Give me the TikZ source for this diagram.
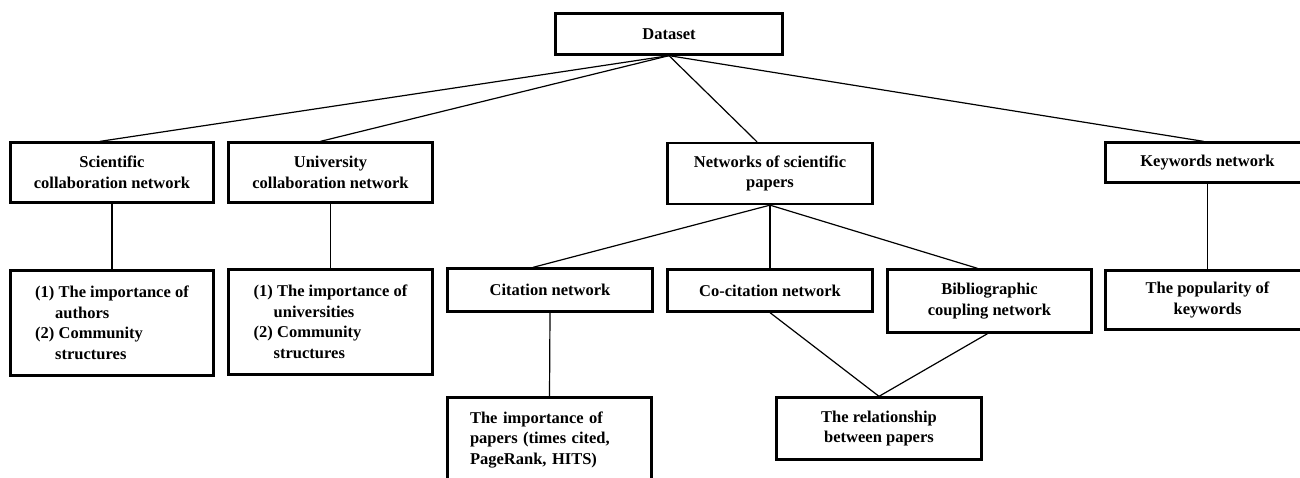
\documentclass[tikz,border=0pt]{standalone}
\usepackage{fontspec}
\setmainfont{Liberation Serif}
\begin{document}
\begin{tikzpicture}[x=1pt,y=-1pt,
  bx/.style={draw=black, line width=2.3pt, inner sep=0pt, align=center,
    font=\bfseries\fontsize{16.5}{20.5}\selectfont},
  ln/.style={draw=black, line width=1.2pt}]
\useasboundingbox (0,0) rectangle (1300,478);
\clip (0,0) rectangle (1300,478);
% level 0
\node[bx, minimum width=227pt, minimum height=41pt] (ds) at (669,34) {Dataset};
% level 1
\node[bx, minimum width=203pt, minimum height=60pt] (sci) at (112,172.5) {Scientific\\collaboration network};
\node[bx, minimum width=204pt, minimum height=60pt] (uni) at (330.5,172.5) {University\\collaboration network};
\node[bx, minimum width=205pt, minimum height=61pt] (net) at (770,173.5) {Networks of scientific\\papers};
\node[bx, minimum width=204pt, minimum height=40pt] (key) at (1207.5,162.5) {Keywords network};
% level 2
\node[bx, minimum width=203pt, minimum height=105pt, align=left] (scir) at (112,323)
  {(1) The importance of\\\hspace*{20pt}authors\\(2) Community\\\hspace*{20pt}structures};
\node[bx, minimum width=204pt, minimum height=105pt, align=left] (unir) at (330.5,322)
  {(1) The importance of\\\hspace*{20pt}universities\\(2) Community\\\hspace*{20pt}structures};
\node[bx, minimum width=205pt, minimum height=43pt] (cit) at (550,290) {Citation network};
\node[bx, minimum width=205pt, minimum height=42pt] (coc) at (770,290.5) {Co-citation network};
\node[bx, minimum width=204pt, minimum height=63pt] (bib) at (989.5,301) {Bibliographic\\coupling network};
\node[bx, minimum width=204pt, minimum height=59pt] (keyr) at (1207.5,300) {The popularity of\\keywords};
% level 3
\node[bx, minimum width=204pt, minimum height=85pt, text width=159pt, align=left] (imp) at (549.5,440)
  {The importance of papers (times cited, PageRank, HITS)};
\node[bx, minimum width=205pt, minimum height=62pt] (rel) at (879,428.5) {The relationship\\between papers};
% connectors
\draw[ln] (ds.south) -- ([xshift=-12pt]sci.north);
\draw[ln] (ds.south) -- ([xshift=-10pt]uni.north);
\draw[ln] (ds.south) -- ([xshift=-13pt]net.north);
\draw[ln] (ds.south) -- ([xshift=-4pt]key.north);
\draw[ln] (sci.south) -- (scir.north);
\draw[ln] (uni.south) -- (unir.north);
\draw[ln] (key.south) -- (keyr.north);
\draw[ln] (net.south) -- ([xshift=-17pt]cit.north);
\draw[ln] (net.south) -- (coc.north);
\draw[ln] (net.south) -- ([xshift=-12pt]bib.north);
\draw[ln] (cit.south) -- (imp.north);
\draw[ln] (coc.south) -- (rel.north);
\draw[ln] ([xshift=-2pt]bib.south) -- (rel.north);
\end{tikzpicture}
\end{document}
